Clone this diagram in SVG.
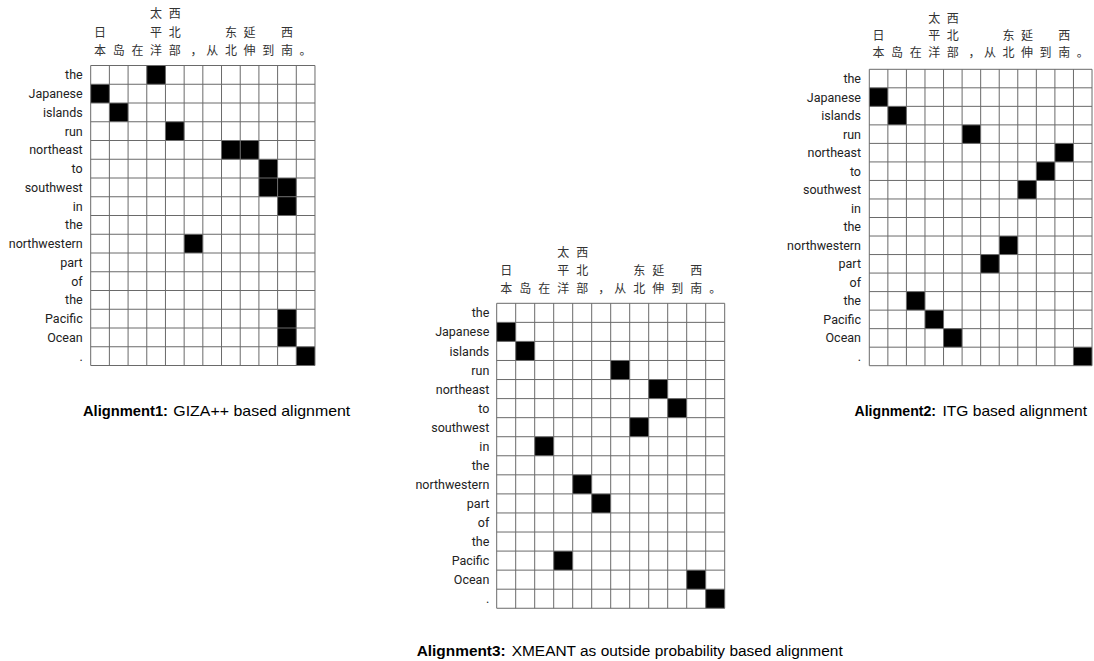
<svg xmlns="http://www.w3.org/2000/svg" xmlns:xlink="http://www.w3.org/1999/xlink" width="1094" height="661" viewBox="0 0 1094 661">
<style>
.bg{fill:#ffffff}
.lbl{font-family:Roboto,"Liberation Sans",sans-serif;font-size:12.5px;fill:#222;text-anchor:end}
.zh{font-family:"Noto Sans CJK SC","Noto Sans CJK TC",sans-serif;font-size:12px;fill:#333;text-anchor:middle}
.gl{fill:none;stroke:#6a6a6a;stroke-width:1;vector-effect:non-scaling-stroke}
.on{fill:#000}
.capb{font-family:"Liberation Sans",Arial,sans-serif;font-size:15px;font-weight:bold;fill:#000}
.capr{font-family:"Liberation Sans",Arial,sans-serif;font-size:15px;fill:#000}
</style>
<defs>
<path id="grid" class="gl" d="M0 0H12M0 1H12M0 2H12M0 3H12M0 4H12M0 5H12M0 6H12M0 7H12M0 8H12M0 9H12M0 10H12M0 11H12M0 12H12M0 13H12M0 14H12M0 15H12M0 16H12M0 0V16M1 0V16M2 0V16M3 0V16M4 0V16M5 0V16M6 0V16M7 0V16M8 0V16M9 0V16M10 0V16M11 0V16M12 0V16"/>
</defs>
<rect class="bg" x="0" y="0" width="1094" height="661"/>

<!-- Panel 1: GIZA++ -->
<g id="alignment1">
  <g class="zh">
    <text x="156.1" y="18">太</text><text x="174.8" y="18">西</text>
    <text x="100.1" y="36.6">日</text><text x="156.1" y="36.6">平</text><text x="174.8" y="36.6">北</text><text x="230.9" y="36.6">东</text><text x="249.6" y="36.6">延</text><text x="286.9" y="36.6">西</text>
    <text x="100.1" y="54.6">本</text><text x="118.7" y="54.6">岛</text><text x="137.4" y="54.6">在</text><text x="156.1" y="54.6">洋</text><text x="174.8" y="54.6">部</text><text x="196.5" y="54.6">，</text><text x="212.2" y="54.6">从</text><text x="230.9" y="54.6">北</text><text x="249.6" y="54.6">伸</text><text x="268.3" y="54.6">到</text><text x="286.9" y="54.6">南</text><text x="305.6" y="54.6">。</text>
  </g>
  <g class="lbl">
    <text x="82.7" y="79.4">the</text><text x="82.7" y="98.1">Japanese</text><text x="82.7" y="116.9">islands</text><text x="82.7" y="135.6">run</text>
    <text x="82.7" y="154.4">northeast</text><text x="82.7" y="173.1">to</text><text x="82.7" y="191.9">southwest</text><text x="82.7" y="210.6">in</text>
    <text x="82.7" y="229.4">the</text><text x="82.7" y="248.1">northwestern</text><text x="82.7" y="266.9">part</text><text x="82.7" y="285.6">of</text>
    <text x="82.7" y="304.4">the</text><text x="82.7" y="323.1">Pacific</text><text x="82.7" y="341.9">Ocean</text><text x="82.7" y="360.6">.</text>
  </g>
  <g transform="translate(90.7,65.5) scale(18.69,18.75)">
    <g class="on">
      <rect x="3" y="0" width="1" height="1"/><rect x="0" y="1" width="1" height="1"/><rect x="1" y="2" width="1" height="1"/><rect x="4" y="3" width="1" height="1"/>
      <rect x="7" y="4" width="1" height="1"/><rect x="8" y="4" width="1" height="1"/><rect x="9" y="5" width="1" height="1"/><rect x="9" y="6" width="1" height="1"/>
      <rect x="10" y="6" width="1" height="1"/><rect x="10" y="7" width="1" height="1"/><rect x="5" y="9" width="1" height="1"/><rect x="10" y="13" width="1" height="1"/>
      <rect x="10" y="14" width="1" height="1"/><rect x="11" y="15" width="1" height="1"/>
    </g>
    <use xlink:href="#grid" href="#grid"/>
  </g>
  <text class="capb" x="83" y="416" textLength="85" lengthAdjust="spacingAndGlyphs">Alignment1:</text>
  <text class="capr" x="173.3" y="416" textLength="177" lengthAdjust="spacingAndGlyphs">GIZA++ based alignment</text>
</g>

<!-- Panel 2: ITG -->
<g id="alignment2">
  <g class="zh">
    <text x="934.3" y="23">太</text><text x="952.8" y="23">西</text>
    <text x="878.6" y="39.6">日</text><text x="934.3" y="39.6">平</text><text x="952.8" y="39.6">北</text><text x="1008.5" y="39.6">东</text><text x="1027.1" y="39.6">延</text><text x="1064.2" y="39.6">西</text>
    <text x="878.6" y="56.6">本</text><text x="897.1" y="56.6">岛</text><text x="915.7" y="56.6">在</text><text x="934.3" y="56.6">洋</text><text x="952.8" y="56.6">部</text><text x="974.4" y="56.6">，</text><text x="989.9" y="56.6">从</text><text x="1008.5" y="56.6">北</text><text x="1027.1" y="56.6">伸</text><text x="1045.6" y="56.6">到</text><text x="1064.2" y="56.6">南</text><text x="1082.7" y="56.6">。</text>
  </g>
  <g class="lbl">
    <text x="861" y="83.1">the</text><text x="861" y="101.6">Japanese</text><text x="861" y="120.1">islands</text><text x="861" y="138.6">run</text>
    <text x="861" y="157.2">northeast</text><text x="861" y="175.7">to</text><text x="861" y="194.2">southwest</text><text x="861" y="212.7">in</text>
    <text x="861" y="231.3">the</text><text x="861" y="249.8">northwestern</text><text x="861" y="268.3">part</text><text x="861" y="286.8">of</text>
    <text x="861" y="305.4">the</text><text x="861" y="323.9">Pacific</text><text x="861" y="342.4">Ocean</text><text x="861" y="360.9">.</text>
  </g>
  <g transform="translate(869.3,69.3) scale(18.56,18.525)">
    <g class="on">
      <rect x="0" y="1" width="1" height="1"/><rect x="1" y="2" width="1" height="1"/><rect x="5" y="3" width="1" height="1"/><rect x="10" y="4" width="1" height="1"/>
      <rect x="9" y="5" width="1" height="1"/><rect x="8" y="6" width="1" height="1"/><rect x="7" y="9" width="1" height="1"/><rect x="6" y="10" width="1" height="1"/>
      <rect x="2" y="12" width="1" height="1"/><rect x="3" y="13" width="1" height="1"/><rect x="4" y="14" width="1" height="1"/><rect x="11" y="15" width="1" height="1"/>
    </g>
    <use xlink:href="#grid" href="#grid"/>
  </g>
  <text class="capb" x="854.5" y="416" textLength="81.5" lengthAdjust="spacingAndGlyphs">Alignment2:</text>
  <text class="capr" x="942.5" y="416" textLength="144.5" lengthAdjust="spacingAndGlyphs">ITG based alignment</text>
</g>

<!-- Panel 3: XMEANT -->
<g id="alignment3">
  <g class="zh">
    <text x="563.2" y="257.4">太</text><text x="582.2" y="257.4">西</text>
    <text x="506.2" y="275">日</text><text x="563.2" y="275">平</text><text x="582.2" y="275">北</text><text x="639.2" y="275">东</text><text x="658.2" y="275">延</text><text x="696.2" y="275">西</text>
    <text x="506.2" y="293.4">本</text><text x="525.2" y="293.4">岛</text><text x="544.2" y="293.4">在</text><text x="563.2" y="293.4">洋</text><text x="582.2" y="293.4">部</text><text x="604.2" y="293.4">，</text><text x="620.2" y="293.4">从</text><text x="639.2" y="293.4">北</text><text x="658.2" y="293.4">伸</text><text x="677.2" y="293.4">到</text><text x="696.2" y="293.4">南</text><text x="715.2" y="293.4">。</text>
  </g>
  <g class="lbl">
    <text x="489.3" y="317.3">the</text><text x="489.3" y="336.4">Japanese</text><text x="489.3" y="355.5">islands</text><text x="489.3" y="374.5">run</text>
    <text x="489.3" y="393.6">northeast</text><text x="489.3" y="412.6">to</text><text x="489.3" y="431.7">southwest</text><text x="489.3" y="450.7">in</text>
    <text x="489.3" y="469.8">the</text><text x="489.3" y="488.9">northwestern</text><text x="489.3" y="507.9">part</text><text x="489.3" y="527">of</text>
    <text x="489.3" y="546">the</text><text x="489.3" y="565.1">Pacific</text><text x="489.3" y="584.1">Ocean</text><text x="489.3" y="603.2">.</text>
  </g>
  <g transform="translate(496.7,303.3) scale(19,19.06)">
    <g class="on">
      <rect x="0" y="1" width="1" height="1"/><rect x="1" y="2" width="1" height="1"/><rect x="6" y="3" width="1" height="1"/><rect x="8" y="4" width="1" height="1"/>
      <rect x="9" y="5" width="1" height="1"/><rect x="7" y="6" width="1" height="1"/><rect x="2" y="7" width="1" height="1"/><rect x="4" y="9" width="1" height="1"/>
      <rect x="5" y="10" width="1" height="1"/><rect x="3" y="13" width="1" height="1"/><rect x="10" y="14" width="1" height="1"/><rect x="11" y="15" width="1" height="1"/>
    </g>
    <use xlink:href="#grid" href="#grid"/>
  </g>
  <text class="capb" x="416.7" y="656" textLength="89" lengthAdjust="spacingAndGlyphs" style="font-size:15.5px">Alignment3:</text>
  <text class="capr" x="511.7" y="656" textLength="331" lengthAdjust="spacingAndGlyphs" style="font-size:15.5px">XMEANT as outside probability based alignment</text>
</g>
</svg>
